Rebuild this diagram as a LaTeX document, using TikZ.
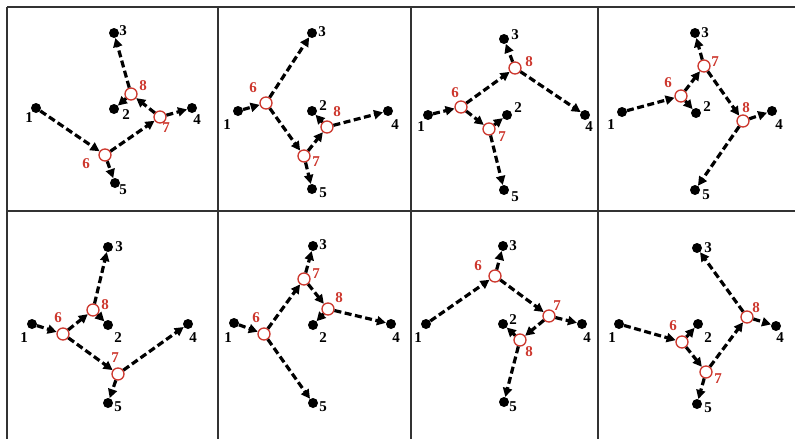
\documentclass[tikz,border=0pt]{standalone}
\usepackage{fontspec}
\setmainfont{Liberation Serif}
\usetikzlibrary{arrows.meta}
\definecolor{hubred}{RGB}{205,55,45}
\tikzset{
  dot/.style={circle,fill=black,inner sep=0pt,minimum size=10pt},
  hub/.style={circle,draw=hubred,line width=1.3pt,fill=white,inner sep=0pt,minimum size=12pt},
  flow/.style={line width=3.2pt,dash pattern=on 7pt off 3.5pt,-{Triangle[length=9pt,width=9pt]}},
  nl/.style={inner sep=0pt,font=\fontsize{15}{15}\selectfont\bfseries},
  hl/.style={nl,text=hubred},
  grid/.style={line width=1.3pt,black!80}
}
\begin{document}
\begin{tikzpicture}[x=1pt,y=-1pt]
\useasboundingbox (0,0) rectangle (795,439);
\fill[white] (0,0) rectangle (795,439);
% grid
\draw[grid] (7,7) -- (795,7);
\draw[grid] (7,211) -- (795,211);
\draw[grid] (7,7) -- (7,439);
\draw[grid] (218,7) -- (218,439);
\draw[grid] (411,7) -- (411,439);
\draw[grid] (598,7) -- (598,439);

% ---------- panel 1 ----------
\node[dot] (a1) at (36,108) {}; \node[dot] (a2) at (114,109) {};
\node[dot] (a3) at (114,33) {}; \node[dot] (a4) at (192,108) {};
\node[dot] (a5) at (115,183) {};
\node[hub] (a6) at (105,155) {}; \node[hub] (a7) at (160,117) {}; \node[hub] (a8) at (131,94) {};
\draw[flow] (a1) -- (a6); \draw[flow] (a6) -- (a5); \draw[flow] (a6) -- (a7);
\draw[flow] (a7) -- (a4); \draw[flow] (a7) -- (a8); \draw[flow] (a8) -- (a3); \draw[flow] (a8) -- (a2);
\node[nl] (la1) at (29,118) {1}; \node[nl] (la2) at (126,115) {2}; \node[nl] (la3) at (123,31) {3};
\node[nl] (la4) at (197,120) {4}; \node[nl] (la5) at (123,190) {5};
\node[hl] (la6) at (86,164) {6}; \node[hl] (la7) at (166,128) {7}; \node[hl] (la8) at (143,86) {8};

% ---------- panel 2 ----------
\node[dot] (b1) at (238,111) {}; \node[dot] (b2) at (312,111) {};
\node[dot] (b3) at (312,33) {}; \node[dot] (b4) at (388,111) {};
\node[dot] (b5) at (312,189) {};
\node[hub] (b6) at (266,103) {}; \node[hub] (b7) at (304,156) {}; \node[hub] (b8) at (327,127) {};
\draw[flow] (b1) -- (b6); \draw[flow] (b6) -- (b3); \draw[flow] (b6) -- (b7);
\draw[flow] (b7) -- (b8); \draw[flow] (b7) -- (b5); \draw[flow] (b8) -- (b2); \draw[flow] (b8) -- (b4);
\node[nl] (lb1) at (227,125) {1}; \node[nl] (lb2) at (323,106) {2}; \node[nl] (lb3) at (322,32) {3};
\node[nl] (lb4) at (395,125) {4}; \node[nl] (lb5) at (323,193) {5};
\node[hl] (lb6) at (253,88) {6}; \node[hl] (lb7) at (316,162) {7}; \node[hl] (lb8) at (337,112) {8};

% ---------- panel 3 ----------
\node[dot] (c1) at (428,115) {}; \node[dot] (c2) at (507,115) {};
\node[dot] (c3) at (504,39) {}; \node[dot] (c4) at (585,115) {};
\node[dot] (c5) at (504,190) {};
\node[hub] (c6) at (461,107) {}; \node[hub] (c7) at (489,129) {}; \node[hub] (c8) at (515,68) {};
\draw[flow] (c1) -- (c6); \draw[flow] (c6) -- (c8); \draw[flow] (c6) -- (c7);
\draw[flow] (c8) -- (c3); \draw[flow] (c8) -- (c4); \draw[flow] (c7) -- (c2); \draw[flow] (c7) -- (c5);
\node[nl] (lc1) at (421,127) {1}; \node[nl] (lc2) at (518,108) {2}; \node[nl] (lc3) at (515,35) {3};
\node[nl] (lc4) at (589,127) {4}; \node[nl] (lc5) at (515,197) {5};
\node[hl] (lc6) at (455,93) {6}; \node[hl] (lc7) at (502,137) {7}; \node[hl] (lc8) at (529,62) {8};

% ---------- panel 4 ----------
\node[dot] (d1) at (622,112) {}; \node[dot] (d2) at (696,113) {};
\node[dot] (d3) at (695,33) {}; \node[dot] (d4) at (772,111) {};
\node[dot] (d5) at (695,190) {};
\node[hub] (d6) at (681,96) {}; \node[hub] (d7) at (704,66) {}; \node[hub] (d8) at (743,121) {};
\draw[flow] (d1) -- (d6); \draw[flow] (d6) -- (d2); \draw[flow] (d6) -- (d7);
\draw[flow] (d7) -- (d3); \draw[flow] (d7) -- (d8); \draw[flow] (d8) -- (d4); \draw[flow] (d8) -- (d5);
\node[nl] (ld1) at (611,125) {1}; \node[nl] (ld2) at (707,107) {2}; \node[nl] (ld3) at (705,33) {3};
\node[nl] (ld4) at (779,125) {4}; \node[nl] (ld5) at (706,195) {5};
\node[hl] (ld6) at (668,83) {6}; \node[hl] (ld7) at (715,62) {7}; \node[hl] (ld8) at (746,108) {8};

% ---------- panel 5 ----------
\node[dot] (e1) at (32,324) {}; \node[dot] (e2) at (108,325) {};
\node[dot] (e3) at (108,247) {}; \node[dot] (e4) at (188,324) {};
\node[dot] (e5) at (108,403) {};
\node[hub] (e6) at (63,334) {}; \node[hub] (e7) at (118,374) {}; \node[hub] (e8) at (93,310) {};
\draw[flow] (e1) -- (e6); \draw[flow] (e6) -- (e8); \draw[flow] (e6) -- (e7);
\draw[flow] (e8) -- (e3); \draw[flow] (e8) -- (e2); \draw[flow] (e7) -- (e4); \draw[flow] (e7) -- (e5);
\node[nl] (le1) at (24,338) {1}; \node[nl] (le2) at (118,338) {2}; \node[nl] (le3) at (119,247) {3};
\node[nl] (le4) at (193,338) {4}; \node[nl] (le5) at (118,407) {5};
\node[hl] (le6) at (58,318) {6}; \node[hl] (le7) at (115,358) {7}; \node[hl] (le8) at (105,305) {8};

% ---------- panel 6 ----------
\node[dot] (f1) at (234,323) {}; \node[dot] (f2) at (313,325) {};
\node[dot] (f3) at (313,246) {}; \node[dot] (f4) at (391,324) {};
\node[dot] (f5) at (313,403) {};
\node[hub] (f6) at (264,334) {}; \node[hub] (f7) at (304,279) {}; \node[hub] (f8) at (328,309) {};
\draw[flow] (f1) -- (f6); \draw[flow] (f6) -- (f7); \draw[flow] (f6) -- (f5);
\draw[flow] (f7) -- (f3); \draw[flow] (f7) -- (f8); \draw[flow] (f8) -- (f2); \draw[flow] (f8) -- (f4);
\node[nl] (lf1) at (228,338) {1}; \node[nl] (lf2) at (323,338) {2}; \node[nl] (lf3) at (323,245) {3};
\node[nl] (lf4) at (396,338) {4}; \node[nl] (lf5) at (323,407) {5};
\node[hl] (lf6) at (256,318) {6}; \node[hl] (lf7) at (316,274) {7}; \node[hl] (lf8) at (339,298) {8};

% ---------- panel 7 ----------
\node[dot] (g1) at (426,324) {}; \node[dot] (g2) at (503,324) {};
\node[dot] (g3) at (503,246) {}; \node[dot] (g4) at (582,324) {};
\node[dot] (g5) at (504,402) {};
\node[hub] (g6) at (495,276) {}; \node[hub] (g7) at (549,316) {}; \node[hub] (g8) at (520,340) {};
\draw[flow] (g1) -- (g6); \draw[flow] (g6) -- (g3); \draw[flow] (g6) -- (g7);
\draw[flow] (g7) -- (g4); \draw[flow] (g7) -- (g8); \draw[flow] (g8) -- (g2); \draw[flow] (g8) -- (g5);
\node[nl] (lg1) at (418,338) {1}; \node[nl] (lg2) at (513,320) {2}; \node[nl] (lg3) at (513,246) {3};
\node[nl] (lg4) at (587,338) {4}; \node[nl] (lg5) at (513,407) {5};
\node[hl] (lg6) at (478,266) {6}; \node[hl] (lg7) at (557,306) {7}; \node[hl] (lg8) at (529,352) {8};

% ---------- panel 8 ----------
\node[dot] (h1) at (619,324) {}; \node[dot] (h2) at (698,324) {};
\node[dot] (h3) at (697,248) {}; \node[dot] (h4) at (776,326) {};
\node[dot] (h5) at (697,404) {};
\node[hub] (h6) at (682,342) {}; \node[hub] (h7) at (706,372) {}; \node[hub] (h8) at (747,317) {};
\draw[flow] (h1) -- (h6); \draw[flow] (h6) -- (h2); \draw[flow] (h6) -- (h7);
\draw[flow] (h7) -- (h5); \draw[flow] (h7) -- (h8); \draw[flow] (h8) -- (h3); \draw[flow] (h8) -- (h4);
\node[nl] (lh1) at (612,338) {1}; \node[nl] (lh2) at (708,338) {2}; \node[nl] (lh3) at (708,248) {3};
\node[nl] (lh4) at (780,338) {4}; \node[nl] (lh5) at (708,408) {5};
\node[hl] (lh6) at (673,326) {6}; \node[hl] (lh7) at (718,379) {7}; \node[hl] (lh8) at (756,308) {8};
\end{tikzpicture}
\end{document}
